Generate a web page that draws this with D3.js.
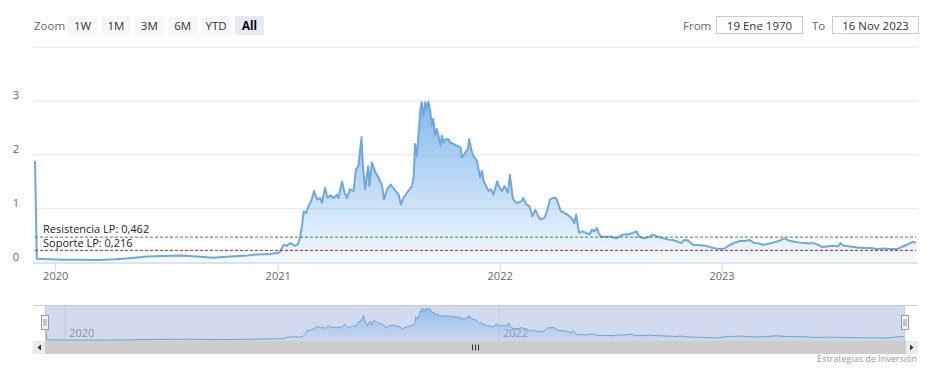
<!DOCTYPE html>
<html>
<head>
<meta charset="utf-8">
<script src="https://cdn.jsdelivr.net/npm/d3@7"></script>
<style>
    body { margin: 0; background: #fff; }
    svg { display: block; font-family: "Open Sans", "Segoe UI", sans-serif; }
</style>
</head>
<body>
<div id="chart"></div>
<script>
var priceDates = [
    "2019-11-28", "2019-12-01", "2019-12-23", "2020-01-13", "2020-02-10", "2020-03-09", "2020-04-08", "2020-05-02",
    "2020-05-30", "2020-06-26", "2020-07-24", "2020-08-20", "2020-09-16", "2020-10-14", "2020-11-11", "2020-11-27",
    "2020-12-19", "2021-01-01", "2021-01-04", "2021-01-10", "2021-01-15", "2021-01-21", "2021-01-29", "2021-02-03",
    "2021-02-06", "2021-02-09", "2021-02-12", "2021-02-16", "2021-02-20", "2021-02-23", "2021-02-25", "2021-03-01",
    "2021-03-06", "2021-03-11", "2021-03-14", "2021-03-19", "2021-03-23", "2021-03-28", "2021-04-02", "2021-04-08",
    "2021-04-10", "2021-04-16", "2021-04-20", "2021-04-24", "2021-04-29", "2021-05-05", "2021-05-09", "2021-05-13",
    "2021-05-18", "2021-05-20", "2021-05-24", "2021-05-29", "2021-05-31", "2021-06-04", "2021-06-10", "2021-06-15",
    "2021-06-21", "2021-06-24", "2021-06-29", "2021-07-05", "2021-07-11", "2021-07-18", "2021-07-22", "2021-07-26",
    "2021-08-03", "2021-08-09", "2021-08-12", "2021-08-14", "2021-08-17", "2021-08-20", "2021-08-23", "2021-08-25",
    "2021-08-28", "2021-08-31", "2021-09-03", "2021-09-05", "2021-09-08", "2021-09-11", "2021-09-13", "2021-09-16",
    "2021-09-19", "2021-09-22", "2021-09-25", "2021-09-27", "2021-09-30", "2021-10-03", "2021-10-08", "2021-10-11",
    "2021-10-17", "2021-10-22", "2021-10-28", "2021-10-30", "2021-11-05", "2021-11-09", "2021-11-11", "2021-11-15",
    "2021-11-18", "2021-11-24", "2021-11-27", "2021-11-29", "2021-12-02", "2021-12-05", "2021-12-09", "2021-12-13",
    "2021-12-17", "2021-12-21", "2021-12-27", "2021-12-31", "2022-01-04", "2022-01-08", "2022-01-14", "2022-01-17",
    "2022-01-22", "2022-01-27", "2022-01-30", "2022-02-05", "2022-02-08", "2022-02-13", "2022-02-18", "2022-02-23",
    "2022-02-28", "2022-03-06", "2022-03-09", "2022-03-15", "2022-03-20", "2022-03-24", "2022-03-29", "2022-04-03",
    "2022-04-06", "2022-04-11", "2022-04-17", "2022-04-22", "2022-04-28", "2022-05-03", "2022-05-06", "2022-05-09",
    "2022-05-11", "2022-05-17", "2022-05-22", "2022-05-28", "2022-06-01", "2022-06-05", "2022-06-09", "2022-06-12",
    "2022-06-16", "2022-06-24", "2022-07-03", "2022-07-11", "2022-07-16", "2022-07-22", "2022-07-30", "2022-08-07",
    "2022-08-13", "2022-08-18", "2022-08-26", "2022-09-04", "2022-09-09", "2022-09-17", "2022-09-26", "2022-10-04",
    "2022-10-12", "2022-10-20", "2022-10-26", "2022-10-31", "2022-11-06", "2022-11-14", "2022-11-25", "2022-12-06",
    "2022-12-17", "2022-12-28", "2023-01-05", "2023-01-14", "2023-01-22", "2023-01-30", "2023-02-07", "2023-02-16",
    "2023-02-21", "2023-03-01", "2023-03-09", "2023-03-18", "2023-03-26", "2023-04-06", "2023-04-14", "2023-04-20",
    "2023-04-28", "2023-05-09", "2023-05-20", "2023-05-31", "2023-06-08", "2023-06-14", "2023-06-22", "2023-07-03",
    "2023-07-11", "2023-07-15", "2023-07-20", "2023-07-31", "2023-08-11", "2023-08-22", "2023-09-02", "2023-09-13",
    "2023-09-24", "2023-10-05", "2023-10-16", "2023-10-24", "2023-11-01", "2023-11-10", "2023-11-16"
];

var priceValues = [
    1.88, 0.06, 0.05, 0.04, 0.04, 0.035, 0.05, 0.07,
    0.10, 0.11, 0.12, 0.10, 0.08, 0.10, 0.12, 0.14,
    0.15, 0.17, 0.19, 0.32, 0.30, 0.35, 0.30, 0.34,
    0.47, 0.66, 0.94, 0.91, 1.04, 1.10, 1.16, 1.32,
    1.16, 1.19, 1.10, 1.38, 1.19, 1.24, 1.19, 1.25,
    1.19, 1.49, 1.29, 1.19, 1.35, 1.32, 1.72, 1.78,
    2.32, 1.82, 1.35, 1.78, 1.41, 1.85, 1.66, 1.57,
    1.41, 1.16, 1.35, 1.44, 1.35, 1.25, 1.07, 1.19,
    1.32, 1.41, 1.60, 2.19, 1.97, 2.41, 2.85, 2.97,
    2.72, 2.97, 2.85, 2.98, 2.81, 2.53, 2.66, 2.35,
    2.47, 2.32, 2.16, 2.35, 2.22, 2.28, 2.28, 2.22,
    2.19, 2.16, 2.13, 1.94, 2.04, 2.10, 2.28, 2.07,
    1.97, 1.88, 1.69, 1.57, 1.69, 1.50, 1.41, 1.32,
    1.35, 1.25, 1.50, 1.38, 1.32, 1.41, 1.29, 1.62,
    1.18, 1.10, 1.10, 1.13, 1.19, 1.07, 1.04, 0.85,
    0.97, 0.82, 0.79, 0.82, 0.97, 1.16, 1.19, 1.19,
    1.10, 0.94, 0.91, 0.88, 0.82, 0.72, 0.88, 0.66,
    0.54, 0.57, 0.54, 0.51, 0.60, 0.57, 0.63, 0.54,
    0.47, 0.47, 0.47, 0.44, 0.47, 0.51, 0.51, 0.54,
    0.57, 0.47, 0.44, 0.47, 0.51, 0.47, 0.44, 0.42,
    0.41, 0.38, 0.35, 0.41, 0.40, 0.32, 0.31, 0.30,
    0.26, 0.24, 0.25, 0.32, 0.36, 0.39, 0.39, 0.41,
    0.36, 0.35, 0.32, 0.34, 0.36, 0.40, 0.44, 0.40,
    0.38, 0.36, 0.35, 0.35, 0.32, 0.28, 0.29, 0.30,
    0.29, 0.35, 0.30, 0.29, 0.27, 0.26, 0.26, 0.24,
    0.25, 0.24, 0.24, 0.28, 0.32, 0.37, 0.36
];

var yTicks = [0, 1, 2, 3, 4];
var yTickLabels = ["0", "1", "2", "3", ""];
var xYears = ["2020", "2021", "2022", "2023"];
var navYears = ["2020", "2022"];
var rangeButtons = ["1W", "1M", "3M", "6M", "YTD", "All"];
var resistance = 0.462;
var support = 0.216;
var resistanceLabel = "Resistencia LP: 0,462";
var supportLabel = "Soporte LP: 0,216";
var fromText = "19 Ene 1970";
var toText = "16 Nov 2023";
var creditText = "Estrategias de Inversión";

var W = 933, H = 374;
var parseDate = d3.timeParse("%Y-%m-%d");

var data = priceDates.map(function (d, i) {
    return { date: parseDate(d), value: priceValues[i] };
});

var startDate = data[0].date, endDate = data[data.length - 1].date;

var svg = d3.select("#chart")
    .append("svg")
    .attr("width", W)
    .attr("height", H);

var defs = svg.append("defs");

function addGradient(id, y1, y2) {
    var g = defs.append("linearGradient")
        .attr("id", id)
        .attr("gradientUnits", "userSpaceOnUse")
        .attr("x1", 0).attr("x2", 0)
        .attr("y1", y1).attr("y2", y2);
    g.append("stop").attr("offset", "0%").attr("stop-color", "#7cb5ec").attr("stop-opacity", 0.95);
    g.append("stop").attr("offset", "100%").attr("stop-color", "#7cb5ec").attr("stop-opacity", 0.08);
}

// main plot
var x = d3.scaleTime()
    .domain([startDate, endDate])
    .range([35, 916]);

var y = d3.scaleLinear()
    .domain([0, 4])
    .range([262, 46.7]);

addGradient("areaGrad", y(3), y(0));

// grid lines
svg.append("g")
    .selectAll("line")
    .data(yTicks.slice(1))
    .enter()
    .append("line")
    .attr("x1", 33).attr("x2", 918)
    .attr("y1", function (d) { return y(d) + 0.5; })
    .attr("y2", function (d) { return y(d) + 0.5; })
    .attr("stroke", "#e6e6e6");

svg.append("g")
    .selectAll("text")
    .data(yTicks)
    .enter()
    .append("text")
    .attr("x", 19)
    .attr("y", function (d) { return y(d) - 1.5; })
    .attr("text-anchor", "end")
    .style("font-size", "11px")
    .style("fill", "#666")
    .text(function (d, i) { return yTickLabels[i]; });

// area + line
var area = d3.area()
    .x(function (d) { return x(d.date); })
    .y0(y(0))
    .y1(function (d) { return y(d.value); });

var line = d3.line()
    .x(function (d) { return x(d.date); })
    .y(function (d) { return y(d.value); });

svg.append("path")
    .datum(data)
    .attr("d", area)
    .attr("fill", "url(#areaGrad)");

svg.append("path")
    .datum(data)
    .attr("d", line)
    .attr("fill", "none")
    .attr("stroke", "#70a8dc")
    .attr("stroke-width", 2)
    .attr("stroke-linejoin", "round");

// support / resistance
svg.append("line")
    .attr("x1", 35).attr("x2", 916)
    .attr("y1", y(resistance)).attr("y2", y(resistance))
    .attr("stroke", "#3d8b3d")
    .attr("stroke-dasharray", "3,2");

svg.append("line")
    .attr("x1", 35).attr("x2", 916)
    .attr("y1", y(support)).attr("y2", y(support))
    .attr("stroke", "#b82222")
    .attr("stroke-dasharray", "3,2");

svg.append("text")
    .attr("x", 43)
    .attr("y", y(resistance) - 4)
    .style("font-size", "11px")
    .style("fill", "#222")
    .text(resistanceLabel);

svg.append("text")
    .attr("x", 43)
    .attr("y", y(support) - 3)
    .style("font-size", "11px")
    .style("fill", "#222")
    .text(supportLabel);

// x axis
svg.append("line")
    .attr("x1", 33).attr("x2", 918)
    .attr("y1", 263).attr("y2", 263)
    .attr("stroke", "#dde3ec")
    .attr("stroke-width", 2);

var years = svg.append("g")
    .selectAll("g")
    .data(xYears)
    .enter()
    .append("g")
    .attr("transform", function (d) { return "translate(" + x(parseDate(d + "-01-01")) + ",0)"; });

years.append("line")
    .attr("y1", 264).attr("y2", 271)
    .attr("stroke", "#ccd6eb");

years.append("text")
    .attr("y", 280)
    .attr("text-anchor", "middle")
    .style("font-size", "11px")
    .style("fill", "#666")
    .text(function (d) { return d; });

// navigator
var nx = d3.scaleTime()
    .domain([startDate, endDate])
    .range([45, 905]);

var ny = d3.scaleLinear()
    .domain([0, 3])
    .range([340.5, 308]);

addGradient("navGrad", 308, 341);

svg.append("rect")
    .attr("x", 45).attr("y", 305)
    .attr("width", 860).attr("height", 36)
    .attr("fill", "#d1dbed");

svg.append("g")
    .selectAll("line")
    .data(navYears)
    .enter()
    .append("line")
    .attr("x1", function (d) { return nx(parseDate(d + "-01-01")); })
    .attr("x2", function (d) { return nx(parseDate(d + "-01-01")); })
    .attr("y1", 305).attr("y2", 341)
    .attr("stroke", "#c3cbdb");

svg.append("g")
    .selectAll("text")
    .data(navYears)
    .enter()
    .append("text")
    .attr("x", function (d) { return nx(parseDate(d + "-01-01")) + 4; })
    .attr("y", 337)
    .style("font-size", "11px")
    .style("fill", "#8a93a3")
    .text(function (d) { return d; });

var navArea = d3.area()
    .x(function (d) { return nx(d.date); })
    .y0(341)
    .y1(function (d) { return ny(d.value); });

var navLine = d3.line()
    .x(function (d) { return nx(d.date); })
    .y(function (d) { return ny(d.value); });

svg.append("path")
    .datum(data)
    .attr("d", navArea)
    .attr("fill", "url(#navGrad)")
    .attr("opacity", 0.8);

svg.append("path")
    .datum(data)
    .attr("d", navLine)
    .attr("fill", "none")
    .attr("stroke", "#6f9fd6")
    .attr("stroke-width", 1);

svg.append("path")
    .attr("d", "M33,305.5H918M45.5,305V341M904.5,305V341")
    .attr("stroke", "#cccccc")
    .attr("fill", "none");

[45, 905].forEach(function (hx) {
    svg.append("rect")
        .attr("x", hx - 3.5).attr("y", 315.5)
        .attr("width", 7).attr("height", 14)
        .attr("fill", "#f2f2f2")
        .attr("stroke", "#999");
    svg.append("path")
        .attr("d", "M" + (hx - 1) + ",319V326M" + (hx + 1) + ",319V326")
        .attr("stroke", "#999");
});

// scrollbar
svg.append("rect")
    .attr("x", 33).attr("y", 341)
    .attr("width", 885).attr("height", 13)
    .attr("fill", "#cdcdcd");

svg.append("rect").attr("x", 33).attr("y", 341).attr("width", 12).attr("height", 13).attr("fill", "#ebebeb");
svg.append("rect").attr("x", 906).attr("y", 341).attr("width", 12).attr("height", 13).attr("fill", "#ebebeb");
svg.append("path").attr("d", "M41,344.5L37.5,347.5L41,350.5Z").attr("fill", "#333");
svg.append("path").attr("d", "M910,344.5L913.5,347.5L910,350.5Z").attr("fill", "#333");
svg.append("path")
    .attr("d", "M472.5,344.5V350.5M475.5,344.5V350.5M478.5,344.5V350.5")
    .attr("stroke", "#333");

svg.append("text")
    .attr("x", 917).attr("y", 362)
    .attr("text-anchor", "end")
    .style("font-size", "9px")
    .style("fill", "#999")
    .text(creditText);

// range selector
svg.append("text")
    .attr("x", 34).attr("y", 30)
    .style("font-size", "11.5px")
    .style("fill", "#666")
    .text("Zoom");

var btn = svg.append("g")
    .selectAll("g")
    .data(rangeButtons)
    .enter()
    .append("g")
    .attr("transform", function (d, i) { return "translate(" + (68 + i * 33.4) + ",16)"; });

btn.append("rect")
    .attr("width", 29).attr("height", 19)
    .attr("fill", function (d) { return d == "All" ? "#e6ebf5" : "#f7f7f7"; });

btn.append("text")
    .attr("x", 14.5).attr("y", 14)
    .attr("text-anchor", "middle")
    .style("font-size", "11.5px")
    .style("font-weight", function (d) { return d == "All" ? "bold" : "normal"; })
    .style("fill", function (d) { return d == "All" ? "#000" : "#333"; })
    .text(function (d) { return d; });

svg.append("text").attr("x", 683).attr("y", 29.5).style("font-size", "11.5px").style("fill", "#666").text("From");
svg.append("text").attr("x", 812).attr("y", 29.5).style("font-size", "11.5px").style("fill", "#666").text("To");

[[716, fromText], [832, toText]].forEach(function (b) {
    svg.append("rect")
        .attr("x", b[0] + 0.5).attr("y", 16.5)
        .attr("width", 86).attr("height", 17)
        .attr("fill", "#fff")
        .attr("stroke", "#cccccc");
    svg.append("text")
        .attr("x", b[0] + 43.5).attr("y", 29.5)
        .attr("text-anchor", "middle")
        .style("font-size", "11.5px")
        .style("fill", "#333")
        .text(b[1]);
});
</script>
</body>
</html>
